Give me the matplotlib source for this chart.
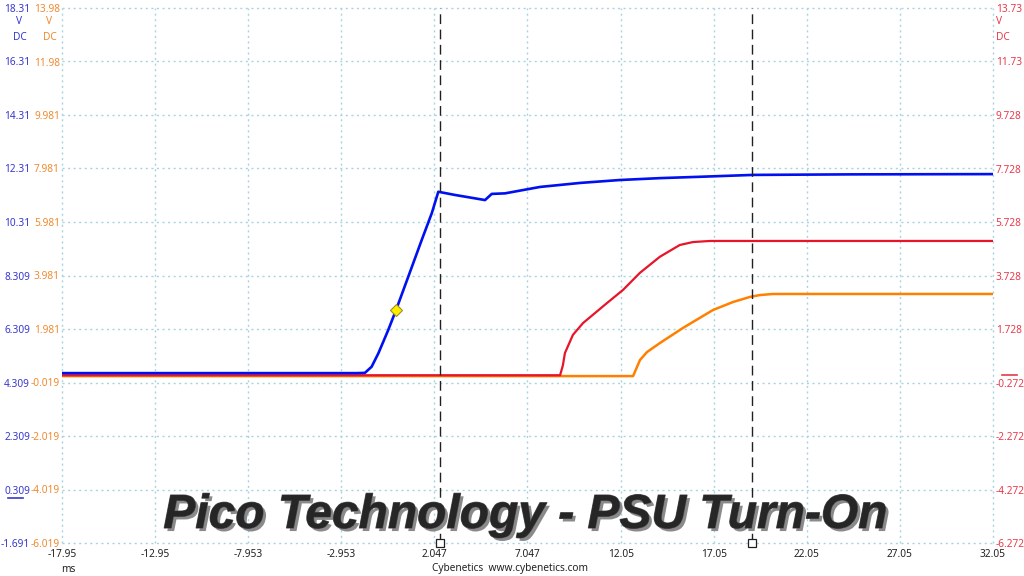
import matplotlib

matplotlib.use("Agg")
import matplotlib.pyplot as plt
import matplotlib.patheffects as pe

# Time axis (ms) and tick labels as shown by the scope software
x_ticks = [-17.95, -12.95, -7.953, -2.953, 2.047, 7.047, 12.05, 17.05, 22.05, 27.05, 32.05]
x_labels = ["-17.95", "-12.95", "-7.953", "-2.953", "2.047", "7.047", "12.05",
            "17.05", "22.05", "27.05", "32.05"]

# Channel scales (V), 2 V per division, 10 divisions
blue_ticks = [-1.691, 0.309, 2.309, 4.309, 6.309, 8.309, 10.31, 12.31, 14.31, 16.31, 18.31]
blue_labels = ["-1.691", "0.309", "2.309", "4.309", "6.309", "8.309", "10.31",
               "12.31", "14.31", "16.31", "18.31"]
orange_ticks = [-6.019, -4.019, -2.019, -0.019, 1.981, 3.981, 5.981, 7.981, 9.981, 11.98, 13.98]
orange_labels = ["-6.019", "-4.019", "-2.019", "-0.019", "1.981", "3.981", "5.981",
                 "7.981", "9.981", "11.98", "13.98"]
red_ticks = [-6.272, -4.272, -2.272, -0.272, 1.728, 3.728, 5.728, 7.728, 9.728, 11.73, 13.73]
red_labels = ["-6.272", "-4.272", "-2.272", "-0.272", "1.728", "3.728", "5.728",
              "7.728", "9.728", "11.73", "13.73"]

# 12 V rail (blue)
blue_t = [-17.95, -2.1, -1.68, -1.32, -0.96, -0.43, -0.01, 0.65, 1.37, 1.91, 2.26,
          3.16, 4.77, 5.13, 5.84, 7.72, 9.87, 12.02, 14.17, 16.31, 19.16, 24.37, 32.05]
blue_v = [4.66, 4.66, 4.67, 4.90, 5.40, 6.27, 7.02, 8.27, 9.64, 10.64, 11.44,
          11.32, 11.13, 11.36, 11.38, 11.62, 11.77, 11.88, 11.95, 12.00, 12.07, 12.09, 12.10]

# 5 V rail (red)
red_t = [-17.95, 8.80, 8.95, 9.06, 9.49, 10.03, 11.32, 12.18, 13.09, 14.16, 15.23,
         15.94, 16.85, 32.05]
red_v = [0.0, 0.0, 0.37, 0.83, 1.51, 1.95, 2.70, 3.19, 3.83, 4.43, 4.87,
         4.98, 5.02, 5.02]

# 3.3 V rail (orange)
orange_t = [-17.95, 12.72, 13.09, 13.47, 14.17, 15.40, 17.01, 18.09, 19.00, 19.54,
            20.24, 32.05]
orange_v = [0.22, 0.22, 0.82, 1.12, 1.46, 2.02, 2.69, 2.99, 3.18, 3.25,
            3.29, 3.29]

trigger = (-0.01, 7.02)
cursors = [2.35, 19.11]

BLUE = "#0010f0"
RED = "#e8142a"
ORANGE = "#ff8000"
BLUE_TXT = "#3838d0"
ORANGE_TXT = "#f08a30"
RED_TXT = "#e83a4a"
GRID = "#a8d4e0"
FONT = "Noto Sans"
FS = 7.3

fig = plt.figure(figsize=(10.24, 5.76), dpi=100)
rect = [62 / 1024, 1 - 543 / 576, 931 / 1024, 535 / 576]
ax = fig.add_axes(rect)
ax_o = ax.twinx()
ax_r = ax.twinx()
ax_b = ax.twinx()

for a in (ax, ax_o, ax_r, ax_b):
    a.set_xlim(x_ticks[0], x_ticks[-1])
    for s in a.spines.values():
        s.set_visible(False)
    a.patch.set_visible(False)
ax.patch.set_visible(True)
ax.patch.set_facecolor("white")

ax.set_ylim(blue_ticks[0], blue_ticks[-1])
ax_b.set_ylim(blue_ticks[0], blue_ticks[-1])
ax_o.set_ylim(orange_ticks[0], orange_ticks[-1])
ax_r.set_ylim(red_ticks[0], red_ticks[-1])

ax.set_xticks(x_ticks)
ax.set_xticklabels(x_labels, fontsize=FS, color="#222222", family=FONT)
ax.tick_params(axis="x", length=0, pad=4)

ax.set_yticks(blue_ticks)
ax.set_yticklabels(blue_labels, fontsize=FS, color=BLUE_TXT, family=FONT)
ax.tick_params(axis="y", length=0, pad=23)

ax_o.yaxis.tick_left()
ax_o.set_yticks(orange_ticks)
ax_o.set_yticklabels(orange_labels, fontsize=FS, color=ORANGE_TXT, family=FONT)
ax_o.tick_params(axis="y", length=0, pad=1.5)

ax_r.set_yticks(red_ticks)
ax_r.set_yticklabels(red_labels, fontsize=FS, color=RED_TXT, family=FONT)
ax_r.tick_params(axis="y", length=0, pad=2)

ax_b.set_yticks([])

ax.grid(True, color=GRID, linestyle=(0, (1.5, 2.5)), linewidth=1.0)
for gl in ax.get_xgridlines() + ax.get_ygridlines():
    gl.set_clip_on(False)

# traces
ax_o.plot(orange_t, orange_v, color=ORANGE, linewidth=1.8, solid_capstyle="butt")
ax_r.plot(red_t, red_v, color=RED, linewidth=1.6, solid_capstyle="butt")
ax_b.plot(blue_t, blue_v, color=BLUE, linewidth=1.9, solid_capstyle="butt")
ax_b.plot([trigger[0]], [trigger[1]], marker="D", markersize=6.5,
          markerfacecolor="#ffee00", markeredgecolor="#a09020", markeredgewidth=0.8)

# time cursors
for c in cursors:
    ax_b.axvline(c, color="#202020", linewidth=1.0, linestyle=(0, (7, 4)))
    ax_b.plot([c], [blue_ticks[0]], marker="s", markersize=5.5, markerfacecolor="white",
              markeredgecolor="#202020", markeredgewidth=0.9, clip_on=False)

# zero-level markers
ax.plot([-0.058, -0.042], [0, 0], color=BLUE_TXT, linewidth=1.2,
        transform=ax.get_yaxis_transform(), clip_on=False)
ax_r.plot([1.0097, 1.0258], [0, 0], color=RED_TXT, linewidth=1.2,
          transform=ax_r.get_yaxis_transform(), clip_on=False)


# unit labels
def px(x, y):
    return x / 1024, 1 - y / 576


for (x, col) in ((19, BLUE_TXT), (49, ORANGE_TXT)):
    fig.text(*px(x, 22), "V", color=col, fontsize=FS, family=FONT, ha="center", va="center")
    fig.text(*px(x + 1, 37), "DC", color=col, fontsize=FS, family=FONT, ha="center", va="center")
fig.text(*px(996, 22), "V", color=RED_TXT, fontsize=FS, family=FONT, ha="left", va="center")
fig.text(*px(996, 37), "DC", color=RED_TXT, fontsize=FS, family=FONT, ha="left", va="center")

fig.text(*px(68, 570), "ms", color="#222222", fontsize=FS, family=FONT, ha="center", va="center")
fig.text(*px(510, 569), "Cybenetics  www.cybenetics.com", color="#222222", fontsize=FS,
         family=FONT, ha="center", va="center")

title = fig.text(*px(525, 528), "Pico Technology - PSU Turn-On", fontsize=34.5,
                 family="Liberation Sans", weight="bold",
                 style="italic", color="#262626", ha="center", va="baseline")
title.set_path_effects([
    pe.SimplePatchShadow(offset=(2.2, -2.2), shadow_rgbFace="#8a8a8a", alpha=1.0),
    pe.withStroke(linewidth=0.8, foreground="#555555"),
])

fig.savefig("out.png", dpi=100)
